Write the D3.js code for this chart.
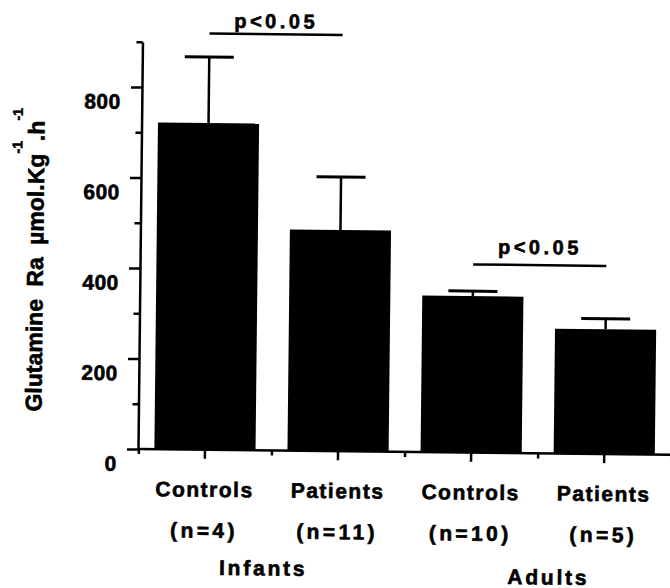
<!DOCTYPE html>
<html>
<head>
<meta charset="utf-8">
<script src="https://cdn.jsdelivr.net/npm/d3@7"></script>
<style>
  body { margin: 0; background: #fff; }
  svg { display: block; }
  text { font-family: "Liberation Sans", Arial, Helvetica, sans-serif; font-weight: bold; fill: #000; stroke: #000; stroke-width: 0.6; }
  .axis path, .axis line { stroke: #000; stroke-width: 2.5; }
</style>
</head>
<body>
<div id="chart"></div>
<script>
// --- Data ---
const barIds = [0, 1, 2, 3];
const categories = ["Controls", "Patients", "Controls", "Patients"];
const nLabels = ["(n=4)", "(n=11)", "(n=10)", "(n=5)"];
const means = [722, 489, 346, 276];
const sems = [146, 117, 11, 23];
const groups = ["Infants", "Adults"];
const groupMembers = [[0, 1], [2, 3]];
const majorTicks = [0, 200, 400, 600, 800];
const minorTicks = [100, 300, 500, 700, 900];
const pLabels = ["p<0.05", "p<0.05"];
const pPairs = [[0, 1], [2, 3]];
const pLevels = [920, 416];

// --- Layout ---
const W = 670, H = 588;
const ox = 138, oy = 449;          // axis corner
const groupDx = [-7, 12], groupY = [574, 580];
const pGap = [6, 11];

const svg = d3.select("#chart").append("svg").attr("width", W).attr("height", H);
// the scanned figure is turned slightly clockwise
const g = svg.append("g").attr("transform", `rotate(0.63,${ox},${oy})`);

const y = d3.scaleLinear().domain([0, 900]).range([oy, oy - 900 * 0.4525]);
const slots = d3.scaleLinear().domain([0, 4]).range([ox + 0.4, 670.8]);
const x = d3.scaleBand().domain(barIds).range(slots.range())
  .paddingInner(0.24).paddingOuter(0.12);
const cx = i => x(i) + x.bandwidth() / 2;

// Bars
g.selectAll("rect.bar").data(barIds).join("rect")
  .attr("class", "bar")
  .attr("x", i => x(i)).attr("y", i => y(means[i]))
  .attr("width", x.bandwidth()).attr("height", i => y(0) - y(means[i]))
  .attr("fill", "#000");

// Error bars (upper only)
g.selectAll("line.stem").data(barIds).join("line")
  .attr("class", "stem")
  .attr("x1", cx).attr("x2", cx)
  .attr("y1", i => y(means[i])).attr("y2", i => y(means[i] + sems[i]))
  .attr("stroke", "#000").attr("stroke-width", 2.5);
g.selectAll("line.cap").data(barIds).join("line")
  .attr("class", "cap")
  .attr("x1", i => cx(i) - 24.5).attr("x2", i => cx(i) + 24.5)
  .attr("y1", i => y(means[i] + sems[i])).attr("y2", i => y(means[i] + sems[i]))
  .attr("stroke", "#000").attr("stroke-width", 3);

// Y axis
const ya = g.append("g").attr("class", "axis").attr("transform", `translate(${ox},0)`)
  .call(d3.axisLeft(y).tickValues(majorTicks).tickSize(11).tickSizeOuter(0).tickFormat(d3.format("d")));
ya.selectAll(".tick text")
  .attr("x", -21).attr("dy", null).attr("y", 21.5)
  .style("font-size", "21px").attr("letter-spacing", 0.5);
g.append("g").attr("class", "axis").attr("transform", `translate(${ox},0)`)
  .call(d3.axisLeft(y).tickValues(minorTicks).tickSize(6).tickFormat(""))
  .select(".domain").remove();

// X axis
const xa = g.append("g").attr("class", "axis").attr("transform", `translate(0,${oy})`)
  .call(d3.axisBottom(slots).tickValues([0, 1, 2, 3, 4]).tickSize(5).tickSizeOuter(0).tickFormat(""));
xa.select(".domain").attr("d", `M${ox},0H${W + 10}`);
g.append("g").attr("class", "axis").attr("transform", `translate(0,${oy})`)
  .call(d3.axisBottom(x).tickSize(9).tickFormat(""))
  .select(".domain").remove();

// Category labels
g.selectAll("text.cat").data(barIds).join("text")
  .attr("class", "cat")
  .attr("x", cx).attr("y", 496)
  .attr("text-anchor", "middle").attr("letter-spacing", 1.5)
  .style("font-size", "21px")
  .text(i => categories[i]);
g.selectAll("text.n").data(barIds).join("text")
  .attr("class", "n")
  .attr("x", cx).attr("y", 537)
  .attr("text-anchor", "middle").attr("letter-spacing", 3.4)
  .style("font-size", "21px")
  .text(i => nLabels[i]);
g.selectAll("text.grp").data(groups).join("text")
  .attr("class", "grp")
  .attr("x", (d, k) => d3.mean(groupMembers[k], cx) + groupDx[k])
  .attr("y", (d, k) => groupY[k])
  .attr("text-anchor", "middle").attr("letter-spacing", 2.8)
  .style("font-size", "21px")
  .text(d => d);

// Significance brackets
g.selectAll("line.p").data(pPairs).join("line")
  .attr("class", "p")
  .attr("x1", d => cx(d[0])).attr("x2", d => cx(d[1]))
  .attr("y1", (d, k) => y(pLevels[k])).attr("y2", (d, k) => y(pLevels[k]))
  .attr("stroke", "#000").attr("stroke-width", 2.5);
g.selectAll("text.p").data(pPairs).join("text")
  .attr("class", "p")
  .attr("x", d => (cx(d[0]) + cx(d[1])) / 2)
  .attr("y", (d, k) => y(pLevels[k]) - pGap[k])
  .attr("text-anchor", "middle").attr("letter-spacing", 3.5)
  .style("font-size", "20px")
  .text((d, k) => pLabels[k]);

// Y axis title with superscripts
const title = g.append("text")
  .attr("transform", "translate(41,261) rotate(-90)")
  .attr("text-anchor", "middle").attr("word-spacing", 6)
  .style("font-size", "23px");
title.append("tspan").text("Glutamine Ra µmol.Kg");
title.append("tspan").attr("dy", -22).style("font-size", "14px").text("-1");
title.append("tspan").attr("dy", 22).text(".h");
title.append("tspan").attr("dy", -22).style("font-size", "14px").text("-1");
</script>
</body>
</html>
